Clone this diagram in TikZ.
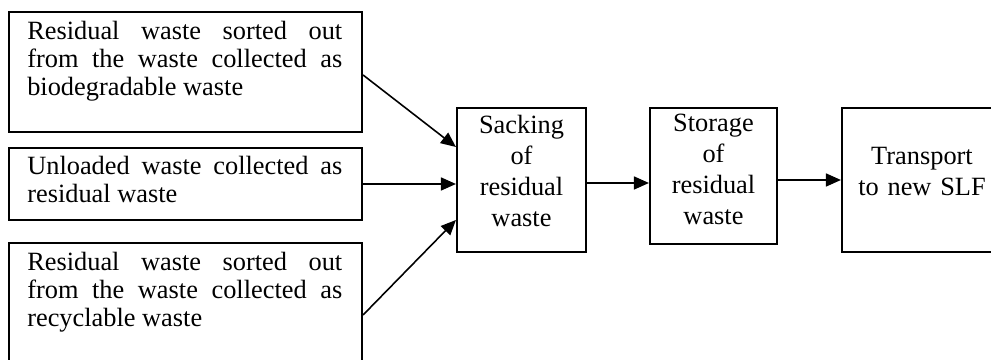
\documentclass[tikz,border=0pt]{standalone}
\usepackage{fontspec}
\setmainfont{Liberation Serif}
\usetikzlibrary{arrows.meta}

\tikzset{
	srcbox/.style={draw, line width=1.2pt, minimum width=7.06cm, inner sep=0pt},
	stepbox/.style={draw, line width=1.2pt, inner sep=0pt},
	srctext/.style={anchor=base west, inner sep=0pt, text width=6.3cm, align=justify, font=\fontsize{15}{15.9}\selectfont},
	steptext/.style={anchor=base, inner sep=0pt, text width=3cm, align=center, font=\fontsize{15}{17.5}\selectfont},
	flow/.style={line width=0.9pt, -{Triangle[length=0.3cm, width=0.26cm]}}
}

\begin{document}
\begin{tikzpicture}
			%%%%% START %%%%%
			\useasboundingbox (0, 0) rectangle (19.82, 7.2);
			
			% sources
			\node[srcbox, minimum height=2.4cm] (bio) at (3.71, 5.76) {};
			\node[srctext] (bio-text) at ([shift={(0.38,-0.58)}]bio.north west) {Residual waste sorted out\linebreak from the waste collected as\linebreak biodegradable waste};
			
			\node[srcbox, minimum height=1.44cm] (unload) at (3.71, 3.52) {};
			\node[srctext] (unload-text) at ([shift={(0.38,-0.56)}]unload.north west) {Unloaded waste collected as\linebreak residual waste};
			
			\node[srcbox, minimum height=2.4cm] (recyc) at (3.71, 1.14) {};
			\node[srctext] (recyc-text) at ([shift={(0.38,-0.58)}]recyc.north west) {Residual waste sorted out\linebreak from the waste collected as\linebreak recyclable waste};
			
			% steps
			\node[stepbox, minimum width=2.58cm, minimum height=2.88cm] (sack) at (10.43, 3.6) {};
			\node[steptext] (sack-text) at ([yshift=-0.54cm]sack.north) {Sacking\\of\\residual\\waste};
			
			\node[stepbox, minimum width=2.54cm, minimum height=2.72cm] (store) at (14.27, 3.68) {};
			\node[steptext] (store-text) at ([yshift=-0.5cm]store.north) {Storage\\of\\residual\\waste};
			
			\node[stepbox, minimum width=3.2cm, minimum height=2.88cm] (trans) at (18.44, 3.6) {};
			\node[steptext] (trans-text) at ([yshift=-1.16cm]trans.north) {Transport\\to new SLF};
			
			% arrows
			\draw[flow] ([yshift=-0.06cm]bio.east) -- ([yshift=0.66cm]sack.west);
			\draw[flow] (unload.east) -- (unload.east -| sack.west);
			\draw[flow] ([yshift=-0.24cm]recyc.east) -- ([yshift=-0.8cm]sack.west);
			\draw[flow] ([yshift=-0.06cm]sack.east) -- ([yshift=-0.06cm]sack.east -| store.west);
			\draw[flow] (store.east |- trans.west) -- (trans.west);
			%%%%% END %%%%%
\end{tikzpicture}
\end{document}
